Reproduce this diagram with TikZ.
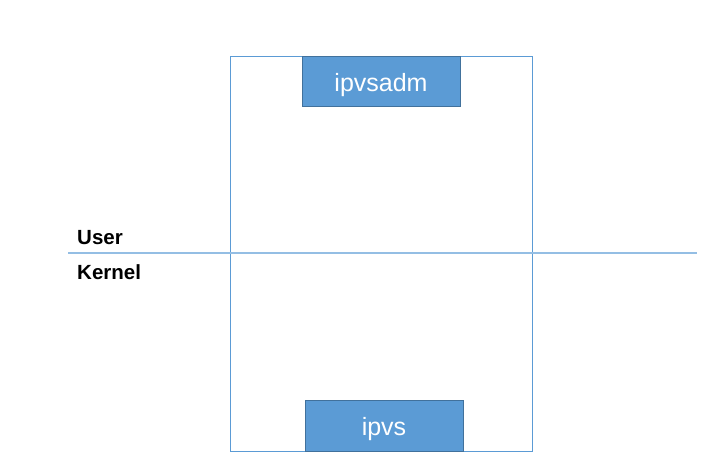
\documentclass[tikz,border=0pt]{standalone}
\usepackage{fontspec}
\setmainfont{Liberation Sans}
\usetikzlibrary{positioning}
\definecolor{BoxFill}{RGB}{91,155,213}
\definecolor{BoxEdge}{RGB}{65,113,156}
\begin{document}
\begin{tikzpicture}[
    x=1pt, y=-1pt,
    frame/.style={draw=BoxFill, line width=1pt, minimum width=302pt, minimum height=395pt, inner sep=0pt},
    comp/.style={draw=BoxEdge, line width=1pt, fill=BoxFill, text=white, minimum width=158pt, minimum height=50pt, inner sep=0pt, text height=20pt, text depth=0pt, font=\fontsize{25}{30}\selectfont},
    side/.style={anchor=base west, font=\fontsize{20.5}{24}\selectfont\bfseries, inner sep=0pt}
]
    \useasboundingbox (0,0) rectangle (712,467);
    \node[frame] (space) at (381,253.5) {};
    \node[comp] (ipvsadm) at (381,81) {ipvsadm};
    \node[comp, minimum height=51pt] (ipvs) at (384,425.5) {ipvs};
    \coordinate (splitL) at (68,253);
    \coordinate (splitR) at (697,253);
    \draw[BoxFill!65, line width=1.2pt] (splitL) -- (splitR);
    \node[side] (user) at (77,244) {User};
    \node[side] (kernel) at (77,279) {Kernel};
\end{tikzpicture}
\end{document}
